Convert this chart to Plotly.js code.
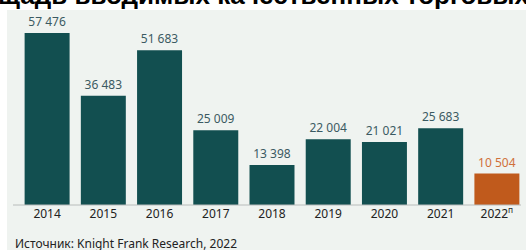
<!DOCTYPE html>
<html>
<head>
<meta charset="utf-8">
<script src="https://cdn.plot.ly/plotly-3.0.1.min.js"></script>
<style>html,body{margin:0;padding:0;background:#fff;overflow:hidden;}#chart{width:526px;height:250px;}</style>
</head>
<body>
<div id="chart"></div>
<script>
const categories = ['2014','2015','2016','2017','2018','2019','2020','2021','2022'];
const tickLabels = ['2014','2015','2016','2017','2018','2019','2020','2021','2022<sup>п</sup>'];
const values = [57476, 36483, 51683, 25009, 13398, 22004, 21021, 25683, 10504];
const isForecast = [false,false,false,false,false,false,false,false,true];
const titleText = 'щадь вводимых качественных торговых';
const sourceText = 'Источник: Knight Frank Research, 2022';

const teal = '#124f50', orange = '#c05a1c';
const barColors = isForecast.map(f => f ? orange : teal);
const labelColors = isForecast.map(f => f ? '#d0703a' : '#3b5a62');

const trace = {
  type: 'bar',
  x: categories,
  y: values,
  marker: {color: barColors, line: {width: 0}},
  texttemplate: '%{y:,}',
  textposition: 'outside',
  cliponaxis: false,
  textfont: {family: 'Noto Sans, Open Sans, sans-serif', size: 12, color: labelColors},
  hoverinfo: 'none'
};

const layout = {
  width: 526, height: 250,
  margin: {l: 19, r: 1, t: 10, b: 45, pad: 0},
  paper_bgcolor: '#ffffff',
  plot_bgcolor: 'rgba(0,0,0,0)',
  separators: ', ',
  bargap: 0.2,
  showlegend: false,
  xaxis: {
    type: 'category',
    tickvals: categories,
    ticktext: tickLabels,
    showgrid: false, zeroline: false,
    showline: false, ticks: '',
    tickfont: {family: 'Noto Sans, Open Sans, sans-serif', size: 12, color: '#222'},
    fixedrange: true
  },
  yaxis: {
    range: [0, 65150],
    visible: false, showgrid: false, zeroline: false, fixedrange: true
  },
  shapes: [
    {type: 'rect', xref: 'paper', yref: 'paper', x0: -12/506, x1: 1.01, y0: -45/195, y1: 1,
     fillcolor: '#eff3f0', line: {width: 0}, layer: 'below'},
    {type: 'line', xref: 'paper', yref: 'paper', x0: -6/506, x1: 502/506, y0: 0, y1: 0,
     line: {color: '#b8bcbb', width: 1}, layer: 'above'}
  ],
  annotations: [
    {text: titleText, xref: 'paper', yref: 'paper', x: -23/506, y: 1 - 2.5/195,
     xanchor: 'left', yanchor: 'bottom', showarrow: false,
     font: {family: 'Liberation Sans, Arial, sans-serif', size: 26, color: '#000', weight: 'bold'}},
    {text: sourceText, xref: 'paper', yref: 'paper', x: -6/506, y: -38/195,
     xanchor: 'left', yanchor: 'middle', showarrow: false,
     font: {family: 'Noto Sans, Open Sans, sans-serif', size: 12, color: '#222'}}
  ]
};

Plotly.newPlot('chart', [trace], layout, {displayModeBar: false, staticPlot: true});
</script>
</body>
</html>
